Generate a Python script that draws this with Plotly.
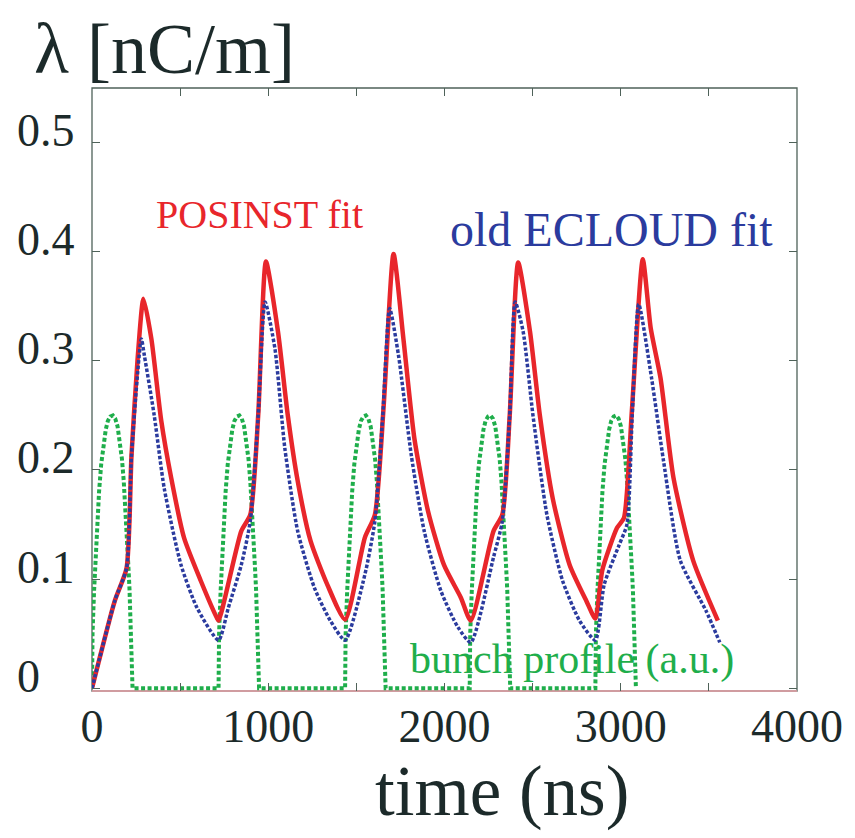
import plotly.graph_objects as go

# ---- data ----
t_red = [0, 129, 196, 224, 258, 292, 337, 393, 449, 522, 617, 707, 718,
         847, 898, 943, 987, 1055, 1111, 1167, 1240, 1335, 1436,
         1548, 1605, 1655, 1711, 1767, 1829, 1907, 1997, 2093, 2149,
         2278, 2328, 2370, 2418, 2485, 2541, 2614, 2710, 2805, 2856,
         2895, 2979, 3018, 3063, 3125, 3170, 3226, 3299, 3411, 3551]
lam_red = [0.0, 0.080, 0.110, 0.213, 0.300, 0.357, 0.320, 0.245, 0.193, 0.138, 0.0985, 0.065, 0.062,
           0.144, 0.159, 0.250, 0.391, 0.327, 0.250, 0.190, 0.135, 0.095, 0.063,
           0.138, 0.159, 0.259, 0.398, 0.320, 0.229, 0.162, 0.113, 0.083, 0.062,
           0.144, 0.159, 0.250, 0.390, 0.327, 0.250, 0.174, 0.113, 0.080, 0.064,
           0.108, 0.147, 0.156, 0.254, 0.393, 0.330, 0.284, 0.193, 0.117, 0.062]

t_blue = [0, 129, 196, 224, 280, 297, 353, 410, 505, 595, 718,
          774, 847, 898, 943, 982, 1038, 1094, 1167, 1262, 1352, 1436,
          1548, 1605, 1650, 1689, 1739, 1812, 1885, 1980, 2076, 2149,
          2278, 2328, 2370, 2401, 2446, 2502, 2581, 2670, 2766, 2856,
          2906, 2990, 3035, 3065, 3102, 3175, 3243, 3338, 3484, 3562]
lam_blue = [0.0, 0.080, 0.110, 0.213, 0.320, 0.305, 0.250, 0.183, 0.113, 0.074, 0.044,
            0.074, 0.113, 0.153, 0.250, 0.354, 0.311, 0.220, 0.144, 0.092, 0.062, 0.044,
            0.104, 0.153, 0.250, 0.348, 0.305, 0.213, 0.144, 0.089, 0.056, 0.042,
            0.120, 0.153, 0.250, 0.354, 0.327, 0.250, 0.159, 0.0985, 0.062, 0.044,
            0.095, 0.131, 0.150, 0.250, 0.352, 0.284, 0.208, 0.117, 0.071, 0.042]

# bunch profile: measured shape of one bunch passage (time after bunch start, a.u.)
bunch_start = [0, 718, 1436, 2143, 2856]
profile_dt = [0, 3, 12, 20, 30, 40, 52, 65, 78, 90, 104, 118, 132, 145, 158, 170,
              180, 190, 199, 207, 213, 218, 222, 226, 230]
profile_val = [0.0, 0.05, 0.09, 0.12, 0.152, 0.18, 0.205, 0.225, 0.237, 0.245, 0.249,
               0.25, 0.247, 0.24, 0.227, 0.21, 0.19, 0.165, 0.14, 0.11, 0.09, 0.07,
               0.05, 0.03, 0.0]

x_tick_vals = [0, 500, 1000, 1500, 2000, 2500, 3000, 3500, 4000]
x_tick_text = ["0", "", "1000", "", "2000", "", "3000", "", "4000"]
y_tick_vals = [0, 0.1, 0.2, 0.3, 0.4, 0.5]
y_tick_text = ["0", "0.1", "0.2", "0.3", "0.4", "0.5"]

t_green, prof_green = [], []
for s in bunch_start:
    t_green += [s + d for d in profile_dt]
    prof_green += list(profile_val)

RED = "#e8262b"
BLUE = "#2b3b9e"
GREEN = "#1fae4b"
INK = "#1c2a2a"
FRAME = "#4f6259"
FONT = "Liberation Serif"

fig = go.Figure()
fig.add_trace(go.Scatter(x=t_green, y=prof_green, mode="lines",
                         line=dict(color=GREEN, width=4, dash="4px,2.5px"),
                         name="bunch profile"))
fig.add_trace(go.Scatter(x=t_red, y=lam_red, mode="lines",
                         line=dict(color=RED, width=4.5, shape="spline", smoothing=0.6),
                         name="POSINST fit"))
fig.add_trace(go.Scatter(x=t_blue, y=lam_blue, mode="lines",
                         line=dict(color=BLUE, width=3.5, dash="3.5px,2px",
                                   shape="spline", smoothing=0.6),
                         name="old ECLOUD fit"))

annotations = []
for v, txt in zip(y_tick_vals, y_tick_text):
    annotations.append(dict(x=-0.109, xref="paper", y=v, yref="y", text=txt,
                            showarrow=False, xanchor="left", yanchor="middle",
                            yshift=12, font=dict(family=FONT, size=46, color=INK)))
annotations += [
    dict(x=-0.085, xref="paper", y=1.065, yref="paper", text="λ [nC/m]",
         showarrow=False, xanchor="left", yanchor="middle",
         font=dict(family=FONT, size=72, color=INK)),
    dict(x=0.581, xref="paper", y=-0.166, yref="paper", text="time (ns)",
         showarrow=False, xanchor="center", yanchor="middle",
         font=dict(family=FONT, size=71, color=INK)),
    dict(x=948, y=0.434, text="POSINST fit", showarrow=False,
         xanchor="center", yanchor="middle", font=dict(family=FONT, size=40, color=RED)),
    dict(x=2950, y=0.42, text="old ECLOUD fit", showarrow=False,
         xanchor="center", yanchor="middle", font=dict(family=FONT, size=48, color=BLUE)),
    dict(x=2721, y=0.026, text="bunch profile (a.u.)", showarrow=False,
         xanchor="center", yanchor="middle", font=dict(family=FONT, size=42, color=GREEN)),
]

fig.update_layout(
    width=855, height=838,
    margin=dict(l=92, r=50, t=88, b=147),
    paper_bgcolor="white", plot_bgcolor="white",
    showlegend=False,
    annotations=annotations,
    shapes=[
        dict(type="rect", xref="paper", yref="paper", x0=0, y0=0, x1=1, y1=1,
             line=dict(color=FRAME, width=1.3), layer="below"),
        dict(type="line", xref="paper", yref="paper", x0=0, y0=0, x1=1, y1=0,
             line=dict(color="#eea3aa", width=1.5), layer="below"),
    ],
)
fig.update_xaxes(range=[0, 4000], tickvals=x_tick_vals, ticktext=x_tick_text,
                 ticks="inside", ticklen=8, tickwidth=1, tickcolor=FRAME,
                 mirror="ticks", showline=False, showgrid=False, zeroline=False,
                 tickfont=dict(family=FONT, size=46, color=INK), ticklabelstandoff=4)
fig.update_yaxes(range=[-0.0025, 0.55], tickvals=y_tick_vals, ticktext=["" for _ in y_tick_vals],
                 ticks="inside", ticklen=8, tickwidth=1, tickcolor=FRAME,
                 mirror="ticks", showline=False, showgrid=False, zeroline=False)

fig.write_html("out.html")
